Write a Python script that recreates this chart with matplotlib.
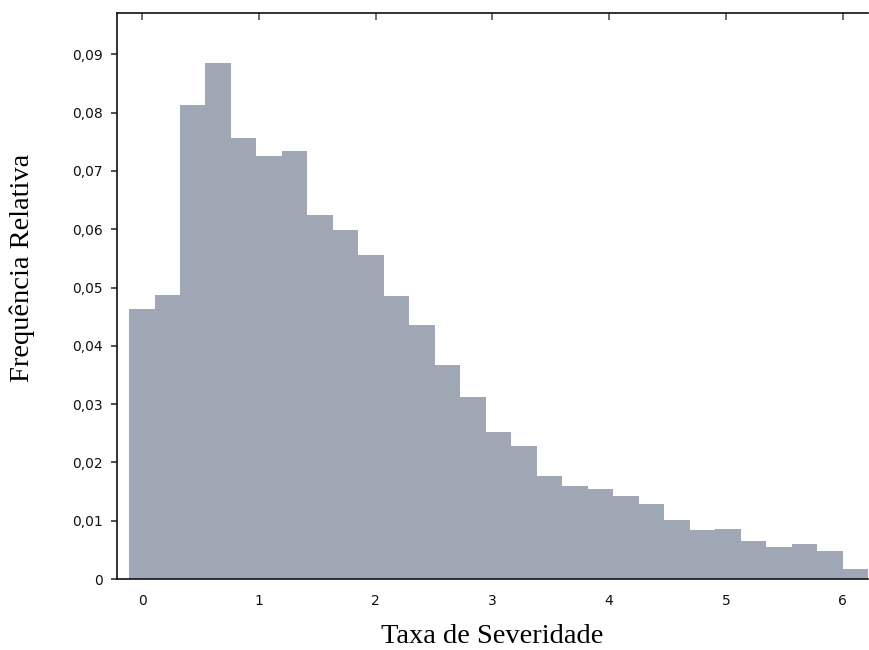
import matplotlib
matplotlib.use("Agg")
import matplotlib.pyplot as plt
import numpy as np
from matplotlib.ticker import FuncFormatter

bin_start = -0.111
bin_width = 0.2182
freqs = [0.0463, 0.0488, 0.0814, 0.0886, 0.0757, 0.0726, 0.0735, 0.0625, 0.0598,
         0.0556, 0.0485, 0.0436, 0.0368, 0.0312, 0.0253, 0.0228, 0.0177, 0.0160,
         0.0154, 0.0143, 0.0129, 0.0101, 0.0084, 0.0085, 0.0065, 0.0055, 0.0060,
         0.0048, 0.0018]
xticks = [0, 1, 2, 3, 4, 5, 6]
yticks = [0, 0.01, 0.02, 0.03, 0.04, 0.05, 0.06, 0.07, 0.08, 0.09]

fig = plt.figure(figsize=(8.7, 6.5), dpi=100)
ax = fig.add_axes([0.1345, 0.1092, 0.8632, 0.8708])

edges = bin_start + bin_width * np.arange(len(freqs))
ax.bar(edges, freqs, width=bin_width, align='edge', color='#a0a7b5', edgecolor='none', linewidth=0)

ax.set_xlim(-0.214, bin_start + bin_width * len(freqs))
ax.set_ylim(0, 0.0971)

ax.spines['right'].set_visible(False)
for s in ['left', 'bottom', 'top']:
    ax.spines[s].set_linewidth(1.2)
    ax.spines[s].set_color('#111111')

ax.set_xticks(xticks)
ax.set_yticks(yticks)
ax.xaxis.set_major_formatter(FuncFormatter(lambda v, p: f"{v:g}"))
ax.yaxis.set_major_formatter(FuncFormatter(lambda v, p: "0" if v == 0 else f"{v:.2f}".replace('.', ',')))

ax.tick_params(axis='x', which='both', bottom=False, top=True, labelbottom=True, labeltop=False,
               direction='in', length=5, width=1.2, color='#555555', labelsize=10, pad=11,
               labelcolor='#111111')
ax.tick_params(axis='y', which='both', left=True, right=False, direction='out', length=4,
               width=1.2, color='#333333', labelsize=10, pad=6, labelcolor='#111111')

ax.set_xlabel('Taxa de Severidade', fontfamily='Liberation Serif', fontsize=20.5, labelpad=11)
ax.set_ylabel('Frequência Relativa', fontfamily='Liberation Serif', fontsize=20.5)
ax.yaxis.set_label_coords(-0.109, 0.549)

fig.savefig('out.png', dpi=100)
